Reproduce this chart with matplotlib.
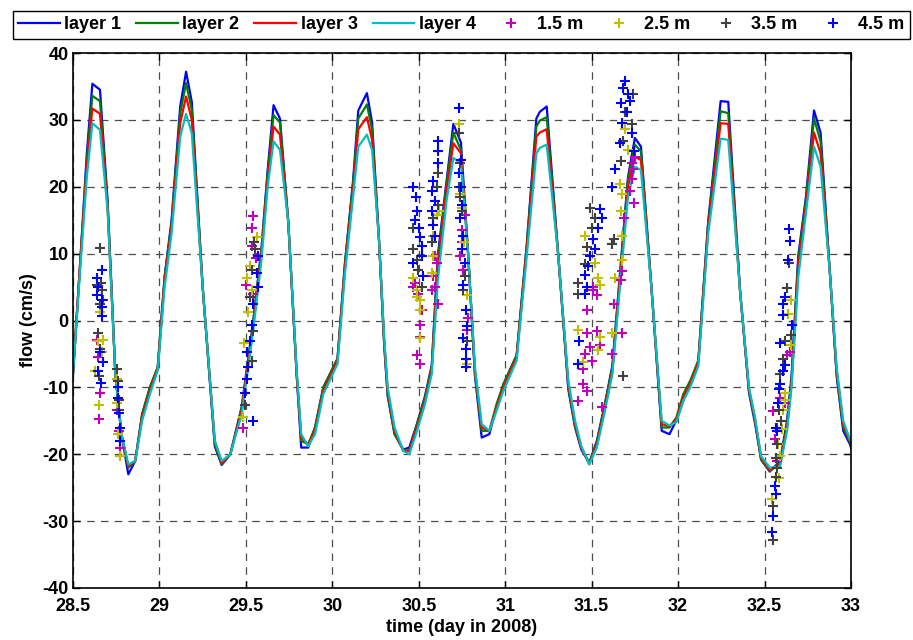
import numpy as np
import matplotlib.pyplot as plt

# modelled flow per layer (cm/s), vertices
t_model = [28.50, 28.54, 28.58, 28.612, 28.656, 28.70, 28.745, 28.78, 28.82, 28.86,
           28.90, 28.945, 28.99, 29.03, 29.07, 29.12, 29.154, 29.187, 29.25, 29.32,
           29.36, 29.41, 29.476, 29.54, 29.59, 29.626, 29.66, 29.697, 29.745, 29.794,
           29.82, 29.86, 29.90, 29.948, 30.03, 30.073, 30.12, 30.15, 30.20, 30.23,
           30.27, 30.30, 30.32, 30.36, 30.41, 30.445, 30.49, 30.536, 30.575, 30.61,
           30.661, 30.70, 30.744, 30.786, 30.825, 30.864, 30.908, 30.95, 30.99, 31.066,
           31.124, 31.18, 31.20, 31.24, 31.307, 31.365, 31.404, 31.44, 31.486, 31.53,
           31.577, 31.62, 31.664, 31.71, 31.75, 31.785, 31.847, 31.905, 31.95, 31.99,
           32.03, 32.07, 32.117, 32.174, 32.246, 32.29, 32.358, 32.41, 32.445, 32.48,
           32.53, 32.59, 32.63, 32.656, 32.695, 32.739, 32.786, 32.824, 32.878, 32.917,
           32.955, 32.994, 33.0]
layer1 = [-8, 8, 25, 35.4, 34.5, 18, -8, -17, -23, -21,
          -14, -10, -7, 6.6, 15, 32, 37.2, 32.7, 5, -18.8,
          -21.6, -20, -12.9, -0.6, 10.7, 22.5, 32.2, 30.2, 14.8, -8.3,
          -19, -19, -16, -10, -5.7, 8.6, 20.9, 31.4, 34, 29.6,
          12, -3.7, -11.3, -17, -19.3, -19, -15.4, -11.3, -6.7, 9.7,
          20.9, 29.4, 26.6, 9.7, -8.3, -17.5, -17, -12.9, -9.5, -5.2,
          11.2, 30.2, 31.2, 32, 9.7, -10.3, -16, -19.3, -21.3, -18,
          -12.4, -6.7, 7.1, 21.4, 27.3, 26, 4.5, -16.5, -17, -14.9,
          -12, -9.5, -6, 14.8, 32.8, 32.7, 4.5, -10.8, -15.4, -20.8,
          -22.6, -21, -15, -8.3, 9.7, 18.4, 31.4, 28.1, 7.1, -8.3,
          -16.5, -18.5, -19]
layer2 = [-8, 8, 24, 33.6, 32.8, 17.5, -8, -17, -22, -21,
          -14, -10, -7, 6.5, 14.5, 31, 35.5, 31.5, 5, -18.5,
          -21.5, -20, -13, -0.8, 10.5, 22, 30.7, 29.6, 14.8, -8,
          -18, -18.5, -16, -10, -5.7, 8.5, 20.5, 30.2, 32.3, 28.5,
          12, -3.5, -11, -17, -19.3, -19.5, -15.5, -11.5, -7, 9,
          20.5, 28.1, 25.5, 9.7, -8, -16.5, -16.5, -12.5, -9.5, -5.2,
          11, 29, 29.9, 30.4, 9.7, -10, -15.8, -19, -21.3, -18.2,
          -12.5, -7, 6.8, 21, 26.3, 25.3, 4.5, -16, -16, -14.5,
          -11, -9, -6, 14.5, 31.3, 31, 4.5, -10.5, -15, -20.8,
          -22.5, -21.3, -15.5, -9, 9, 18, 30.2, 26.8, 7.1, -8,
          -16, -18.2, -18.5]
layer3 = [-8, 8, 23, 31.7, 30.9, 17, -8, -17, -21.8, -21,
          -14.5, -10.5, -7.2, 6, 14, 29.5, 33.5, 30, 5, -18,
          -21.3, -20, -13.5, -1.2, 10, 21, 29, 27.8, 14.8, -8,
          -17.5, -18.5, -16.5, -10.5, -6, 8, 19.5, 28.6, 30.4, 27,
          12, -3, -10.5, -16.5, -19.5, -19.5, -16, -12, -7.5, 8,
          19.5, 26.5, 25, 9.7, -7.5, -16, -16.5, -13, -10, -5.5,
          10.5, 27.5, 28.1, 28.6, 9.7, -9.5, -15.5, -19, -21.5, -18.5,
          -13, -7.5, 6.2, 20, 24.5, 24, 4.5, -15.5, -15.8, -14.8,
          -11.5, -9.5, -6.3, 14, 29.5, 29.4, 4.5, -10.3, -14.8, -20.5,
          -22.4, -21.5, -16, -9.5, 8, 17, 28.1, 25, 7.1, -7.5,
          -15.5, -18, -18.2]
layer4 = [-8, 7, 21.5, 29.5, 28.5, 16.5, -8, -17, -21.5, -21,
          -15, -11, -7.5, 5, 13, 27.5, 30.9, 28, 5, -18,
          -21, -20, -14, -2, 9, 20, 26.8, 25.5, 14.8, -7.5,
          -17, -18.8, -17, -11, -6.5, 7, 18.5, 26, 27.8, 25.5,
          12, -2.5, -10, -16, -19.5, -20, -16.5, -12.5, -8, 6,
          18, 24.3, 23.5, 9.7, -7, -15.5, -16.5, -13.5, -10.5, -6,
          9.5, 25, 25.8, 26.3, 9.7, -9, -15, -18.8, -21.5, -19,
          -13.5, -8, 5.2, 18.5, 23, 22.5, 4.5, -15, -15.7, -15.2,
          -12, -10, -6.8, 13, 27.2, 27, 4.5, -10, -14.5, -20.3,
          -22, -21.8, -16.5, -10, 6.5, 16, 26, 23, 7.1, -7,
          -15, -17.8, -18]

# measured flow at four heights (time, cm/s)
obs_15 = [(28.675, 3.0), (28.637, -2.9), (28.656, -10.8), (28.652, -14.7), (28.646, -5.5),
          (28.752, -13.4), (28.772, -19.0), (28.772, -20.3), (28.765, -16.5),
          (29.543, 15.6), (29.535, 13.9), (29.535, 11.2), (29.558, 9.4), (29.500, 5.3),
          (29.486, -16.0), (29.540, 4.0),
          (30.478, 5.6), (30.497, 4.0), (30.517, 1.5), (30.507, -0.6), (30.507, -2.4),
          (30.488, -5.2), (30.507, -6.5), (30.468, 5.0),
          (30.594, 9.7), (30.603, 8.6), (30.584, 6.6), (30.594, 5.0), (30.613, 2.5), (30.575, 4.5),
          (30.767, 15.8), (30.748, 13.5), (30.748, 11.7), (30.738, 9.7), (30.757, 7.6),
          (30.786, 0.4), (30.781, -1.4),
          (31.509, 5.0), (31.529, 3.8), (31.471, 1.5), (31.471, -1.9), (31.529, -1.6),
          (31.490, -3.9), (31.461, -5.0), (31.500, -6.0), (31.452, -7.2), (31.452, -9.5),
          (31.471, -10.6), (31.423, -12.1), (31.558, -13.0), (31.509, 4.5), (31.548, -3.7),
          (31.750, 24.5), (31.741, 22.7), (31.731, 21.2), (31.721, 19.4), (31.746, 17.6),
          (31.689, 15.3), (31.677, 7.4), (31.669, 6.1), (31.631, 2.5), (31.677, -1.9),
          (31.619, -5.0), (31.731, 23.5),
          (32.656, -0.6), (32.647, -4.7), (32.628, -5.2), (32.618, -12.4), (32.550, -13.6),
          (32.589, -11.6), (32.574, -16.0), (32.560, -17.7), (32.570, -21.0)]
obs_25 = [(28.656, 1.2), (28.646, -3.1), (28.666, -4.7), (28.627, -7.5), (28.652, -12.6),
          (28.675, -2.9),
          (28.752, -8.8), (28.762, -17.0), (28.772, -20.3), (28.752, -12.4),
          (29.562, 12.5), (29.524, 8.1), (29.504, 6.3), (29.533, 4.5), (29.514, 1.2),
          (29.491, -3.4), (29.485, -14.4),
          (30.468, 6.3), (30.488, 4.5), (30.507, 3.0), (30.507, 1.5), (30.507, -2.6), (30.488, 3.5),
          (30.603, 15.8), (30.580, 12.7), (30.584, 9.7), (30.574, 7.1), (30.619, 16.3),
          (30.733, 29.4), (30.738, 18.9), (30.748, 16.8), (30.761, 11.7), (30.777, 3.8),
          (30.781, -6.5),
          (31.461, 12.7), (31.519, 8.6), (31.538, 6.3), (31.548, 5.3), (31.423, -1.4),
          (31.548, -2.4), (31.538, -4.4), (31.452, -6.2),
          (31.693, 28.6), (31.712, 25.5), (31.664, 20.4), (31.677, 18.9), (31.669, 16.3),
          (31.677, 12.7), (31.677, 9.1), (31.635, 6.3), (31.619, -1.9),
          (32.651, 3.1), (32.637, 0.9), (32.651, -3.7), (32.618, -10.8), (32.618, -11.9),
          (32.608, -13.4), (32.579, -18.5), (32.589, -20.3), (32.585, -23.6), (32.541, -26.7),
          (32.600, -16.2)]
obs_35 = [(28.656, 10.9), (28.637, 5.3), (28.666, 4.5), (28.656, 2.5), (28.646, -1.9),
          (28.656, -4.2), (28.652, -8.3), (28.660, 5.6),
          (28.752, -7.2), (28.762, -9.0), (28.768, -11.9), (28.768, -13.4),
          (29.552, 10.7), (29.533, 7.6), (29.524, 3.5), (29.543, -1.6), (29.533, -6.0),
          (29.495, -12.6), (29.549, 11.7),
          (30.468, 13.8), (30.468, 10.7), (30.488, 9.1), (30.497, 7.6), (30.517, 5.0),
          (30.613, 22.0), (30.603, 19.9), (30.613, 17.3), (30.584, 15.3), (30.574, 11.7),
          (30.735, 28.1), (30.738, 23.5), (30.735, 19.9), (30.738, 18.4), (30.748, 16.3),
          (30.767, 6.6), (30.757, 4.5), (30.781, -3.1),
          (31.490, 16.8), (31.519, 15.3), (31.500, 13.8), (31.471, 11.0), (31.461, 8.4),
          (31.423, 5.6), (31.423, 3.9),
          (31.741, 33.8), (31.693, 31.2), (31.731, 29.4), (31.683, 26.8), (31.669, 23.8),
          (31.631, 12.2), (31.616, 11.4), (31.683, -8.3),
          (32.643, 8.6), (32.631, 4.9), (32.651, -2.1), (32.618, -3.1), (32.608, -5.7),
          (32.589, -8.0), (32.585, -13.4), (32.593, -15.0), (32.574, -18.5), (32.566, -20.6),
          (32.574, -22.1), (32.566, -23.4), (32.547, -27.7), (32.547, -32.8)]
obs_45 = [(28.666, 7.6), (28.637, 6.3), (28.646, 5.0), (28.641, 3.8), (28.666, 3.0),
          (28.666, 2.0), (28.666, 0.7), (28.656, -4.7), (28.675, -6.2), (28.646, -7.5),
          (28.660, -9.3),
          (28.758, -10.0), (28.762, -11.6), (28.768, -13.9), (28.772, -16.0), (28.772, -18.0),
          (29.572, 9.7), (29.562, 7.1), (29.572, 5.0), (29.543, 2.5), (29.533, -0.6),
          (29.524, -3.1), (29.504, -4.7), (29.514, -7.0), (29.504, -8.8), (29.495, -10.8),
          (29.543, -15.0),
          (30.468, 19.9), (30.484, 18.4), (30.492, 16.3), (30.478, 15.0), (30.503, 13.8),
          (30.507, 12.5), (30.517, 11.2), (30.468, 8.6), (30.517, 9.7), (30.522, 6.6),
          (30.613, 26.8), (30.613, 25.3), (30.613, 23.5), (30.584, 20.9), (30.574, 19.4),
          (30.594, 17.9), (30.574, 16.3), (30.584, 14.3), (30.594, 12.7),
          (30.733, 31.8), (30.742, 24.0), (30.735, 22.0), (30.742, 19.9), (30.748, 17.3),
          (30.738, 15.3), (30.754, 12.7), (30.748, 10.7), (30.767, 8.6), (30.757, 5.3),
          (30.773, 1.5), (30.781, -0.8), (30.757, -2.6), (30.773, -4.2), (30.773, -5.7),
          (30.773, -7.0),
          (31.548, 16.6), (31.558, 15.3), (31.538, 13.8), (31.509, 12.2), (31.519, 10.7),
          (31.490, 9.7), (31.481, 8.1), (31.461, 6.8), (31.471, 5.0), (31.461, 4.0),
          (31.426, -3.1), (31.423, -6.5),
          (31.693, 35.8), (31.683, 34.8), (31.669, 32.5), (31.721, 32.8), (31.702, 31.2),
          (31.673, 29.6), (31.731, 28.1), (31.664, 26.6), (31.746, 25.3), (31.635, 22.7),
          (31.619, 19.9), (31.712, 33.8),
          (32.643, 13.7), (32.647, 11.9), (32.637, 9.1), (32.618, 3.5), (32.604, 2.5),
          (32.608, 0.8), (32.656, -0.6), (32.589, -3.4), (32.618, -6.7), (32.608, -7.5),
          (32.589, -9.5), (32.585, -10.3), (32.579, -12.4), (32.566, -16.0), (32.574, -16.5),
          (32.560, -24.7), (32.566, -25.9), (32.550, -29.3), (32.541, -31.6)]

layer_names = ['layer 1', 'layer 2', 'layer 3', 'layer 4']
layer_colors = [(0, 0, 1), (0, 0.5, 0), (1, 0, 0), (0, 0.75, 0.75)]
obs_names = ['1.5 m', '2.5 m', '3.5 m', '4.5 m']
obs_colors = [(0.75, 0, 0.75), (0.75, 0.75, 0), (0.25, 0.25, 0.25), (0, 0, 1)]

plt.rcParams['font.family'] = ['Liberation Sans', 'DejaVu Sans']
plt.rcParams['font.weight'] = 'bold'
plt.rcParams['axes.labelweight'] = 'bold'
plt.rcParams['font.size'] = 13
plt.rcParams['axes.unicode_minus'] = False

fig = plt.figure(figsize=(9.13, 6.4), dpi=100)
ax = fig.add_axes([73 / 913, 1 - 588 / 640, (851 - 73) / 913, (588 - 53) / 640])

for vals, name, col in zip([layer1, layer2, layer3, layer4], layer_names, layer_colors):
    ax.plot(t_model, vals, color=col, lw=1.6, label=name)

for obs, name, col in zip([obs_15, obs_25, obs_35, obs_45], obs_names, obs_colors):
    arr = np.array(obs)
    ax.plot(arr[:, 0], arr[:, 1], '+', color=col, ms=7, mew=1.5, label=name)

ax.set_xlim(28.5, 33)
ax.set_ylim(-40, 40)
xt = np.arange(28.5, 33.01, 0.5)
ax.set_xticks(xt)
ax.set_xticklabels([('%g' % v) for v in xt])
ax.set_yticks(np.arange(-40, 41, 10))
ax.tick_params(direction='in', top=True, right=True, length=5, width=1)
ax.tick_params(axis='x', pad=7)
ax.tick_params(axis='y', pad=3)
ax.grid(True, color='0.3', linestyle=(0, (6, 5)), lw=0.9)
for s in ax.spines.values():
    s.set_linewidth(1.2)
ax.set_xlabel('time (day in 2008)', labelpad=3)
ax.set_ylabel('flow (cm/s)', labelpad=4)

fig.legend(loc='upper left', bbox_to_anchor=(13 / 913, 1 - 11 / 640), ncol=8,
           frameon=True, fancybox=False, edgecolor='black', framealpha=1,
           handlelength=2.3, handletextpad=0.25, columnspacing=0.83,
           borderpad=0.3, borderaxespad=0)

fig.savefig('out.png', dpi=100)
